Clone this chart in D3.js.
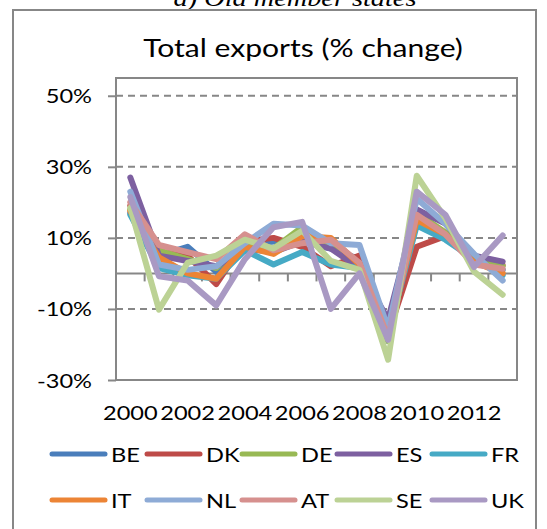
<!DOCTYPE html>
<html>
<head>
<meta charset="utf-8">
<script src="https://cdn.jsdelivr.net/npm/d3@7"></script>
<style>
  html, body { margin: 0; padding: 0; background: #fff; }
  svg { display: block; }
  text { font-family: Lato, "Open Sans", sans-serif; fill: #000; }
</style>
</head>
<body>
<svg id="chart" width="547" height="529"></svg>
<script>
// ---------- data ----------
const years = [2000, 2001, 2002, 2003, 2004, 2005, 2006, 2007, 2008, 2009, 2010, 2011, 2012, 2013];
const xTickLabels = [2000, 2002, 2004, 2006, 2008, 2010, 2012];
const yTickValues = [-30, -10, 10, 30, 50];
const countries = ["BE", "DK", "DE", "ES", "FR", "IT", "NL", "AT", "SE", "UK"];

const BE = [17, 5, 7.5, 0.5, 8, 9, 9, 7, 4, -19, 15, 11, 4, 1];
const DK = [19, 6, 5, -3, 9, 10, 7.5, 2, 5, -17, 7.5, 10.5, 3.5, 2.3];
const DE = [18, 6.5, 4, 1.5, 9, 7, 13, 8, 1.5, -19, 17, 11.5, 3.5, 2];
const ES = [27, 5, 3.5, 2, 7, 6, 9, 7, 1.5, -13, 18, 14, 5, 3.3];
const FR = [16.5, 1.5, -0.5, -1.5, 6.5, 2.5, 6, 2.5, 1.5, -17, 13.5, 9.5, 4, -0.5];
const IT = [17.5, 4.5, 0, -1.5, 7.5, 5.5, 10.5, 10, 2.5, -17, 15, 11, 3.2, 0];
const NL = [23, 2.5, 1, 2, 8.5, 14, 13.5, 8.5, 8, -15.5, 21, 14, 5.5, -2];
const AT = [20, 8, 6, 4, 11, 6.5, 8.5, 9.5, 3, -18, 16.5, 11, 2.5, 1.3];
const SE = [18.5, -10.2, 3, 5, 9.5, 7, 12, 3.5, 1, -24.3, 27.5, 15.5, 0.5, -6];
const UK = [21.5, -0.8, -2, -9, 4, 13, 14.5, -10, 0, -18.7, 23, 16.5, 1.8, 10.7];

const seriesValues = [BE, DK, DE, ES, FR, IT, NL, AT, SE, UK];
const colors = ["#4a7ebb", "#be4b48", "#98b954", "#7d60a0", "#46aac5",
                "#ec8435", "#8eabd6", "#d6908e", "#bcd295", "#a999c3"];

const title = "Total exports (% change)";
const caption = "a)   Old member states";

// ---------- layout ----------
const svg = d3.select("#chart");
const plot = { left: 116, right: 517, top: 78, bottom: 380 };
const gray = "#878787";
const SX = 1.18; // horizontal stretch of the original picture

const x = d3.scaleBand().domain(years).range([plot.left, plot.right]).padding(0);
const y = d3.scaleLinear().domain([-30, 55]).range([plot.bottom, plot.top]);
const cx = d => x(d) + x.bandwidth() / 2;

function stretchedText(g, tx, ty, str, size, anchor, extra) {
  const t = g.append("text")
    .attr("transform", `translate(${tx},${ty}) scale(${SX},1)`)
    .attr("text-anchor", anchor)
    .attr("font-size", size)
    .text(str);
  if (extra) extra(t);
  return t;
}

// caption (cut off at top, as in the source picture)
stretchedText(svg, 295, 6, caption, 24, "middle", t =>
  t.style("font-family", "'Liberation Serif', 'Times New Roman', serif").style("font-style", "italic"));

// outer chart border
svg.append("rect").attr("x", 13).attr("y", 10).attr("width", 523).attr("height", 540)
  .attr("fill", "none").attr("stroke", gray).attr("stroke-width", 2);

// title
stretchedText(svg, 303, 57, title, 25.5, "middle");

// gridlines
const gridVals = yTickValues.filter(v => v > -30);
svg.append("g").selectAll("line").data(gridVals).join("line")
  .attr("x1", plot.left).attr("x2", plot.right)
  .attr("y1", d => y(d)).attr("y2", d => y(d))
  .attr("stroke", gray).attr("stroke-width", 2).attr("stroke-dasharray", "7,5");

// plot area border
svg.append("rect").attr("x", plot.left).attr("y", plot.top)
  .attr("width", plot.right - plot.left).attr("height", plot.bottom - plot.top)
  .attr("fill", "none").attr("stroke", gray).attr("stroke-width", 2);

// y axis (ticks + labels)
const yAxis = d3.axisLeft(y).tickValues(yTickValues).tickFormat(d => d + "%")
  .tickSize(8).tickPadding(16);
const gy = svg.append("g").attr("transform", `translate(${plot.left},0)`).call(yAxis);
gy.select(".domain").remove();
gy.selectAll(".tick line").attr("stroke", gray).attr("stroke-width", 2);
gy.selectAll(".tick text").each(function(d) {
  const t = d3.select(this);
  const xx = +t.attr("x") || -24;
  t.attr("x", null).attr("dy", null)
   .attr("transform", `translate(${xx},${7}) scale(${SX},1)`)
   .attr("font-size", 20).attr("font-family", "Lato, sans-serif").attr("fill", "#000");
});

// zero line with category tick marks
const gx = svg.append("g").attr("transform", `translate(0,${y(0)})`);
gx.append("line").attr("x1", plot.left).attr("x2", plot.right)
  .attr("stroke", gray).attr("stroke-width", 2);
gx.selectAll("line.tk").data(years.slice(1).concat(["end"])).join("line").attr("class", "tk")
  .attr("x1", d => d === "end" ? plot.right : x(d))
  .attr("x2", d => d === "end" ? plot.right : x(d))
  .attr("y1", 0).attr("y2", 8)
  .attr("stroke", gray).attr("stroke-width", 2);

// x labels (low position)
const xAxis = d3.axisBottom(x).tickValues(xTickLabels).tickSize(0).tickPadding(0);
const gxl = svg.append("g").attr("transform", `translate(0,${plot.bottom})`).call(xAxis);
gxl.select(".domain").remove();
gxl.selectAll(".tick text").each(function() {
  d3.select(this).attr("y", null).attr("dy", null)
    .attr("transform", `translate(0,40) scale(${SX},1)`)
    .attr("font-size", 20).attr("font-family", "Lato, sans-serif").attr("fill", "#000");
});

// series lines
const line = d3.line().x((d, i) => cx(years[i])).y(d => y(d));
svg.append("g").selectAll("path").data(seriesValues).join("path")
  .attr("d", d => line(d))
  .attr("fill", "none")
  .attr("stroke", (d, i) => colors[i])
  .attr("stroke-width", 6)
  .attr("stroke-linejoin", "round")
  .attr("stroke-linecap", "round");

// legend
const legX0 = 52, legDX = 95, legRowY = [454, 500], lineLen = 53;
const leg = svg.append("g").selectAll("g").data(countries).join("g")
  .attr("transform", (d, i) => `translate(${legX0 + (i % 5) * legDX},${legRowY[Math.floor(i / 5)]})`);
leg.append("line").attr("x1", 0).attr("x2", lineLen).attr("y1", 0).attr("y2", 0)
  .attr("stroke", (d, i) => colors[i]).attr("stroke-width", 5).attr("stroke-linecap", "round");
leg.append("text")
  .attr("transform", `translate(${lineLen + 6},7.5) scale(${SX},1)`)
  .attr("font-size", 20)
  .text(d => d);
</script>
</body>
</html>
